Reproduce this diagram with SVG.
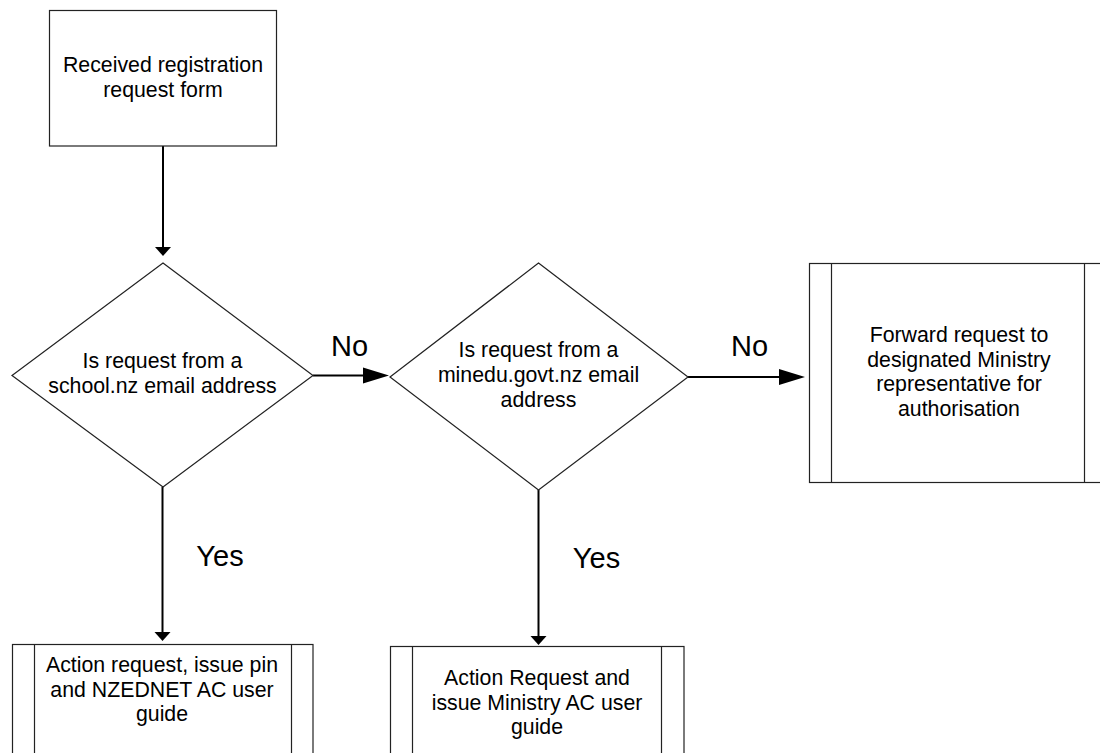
<svg xmlns="http://www.w3.org/2000/svg" width="1100" height="753" viewBox="0 0 1100 753">
  <style>
    .shape { fill: #ffffff; stroke: #222222; stroke-width: 1.2; }
    .div { fill: none; stroke: #222222; stroke-width: 1.2; }
    .conn { fill: none; stroke: #000000; stroke-width: 2; }
    .txt { font-family: "Liberation Sans", Arial, sans-serif; font-size: 21.3px; fill: #000000; text-anchor: middle; }
    .lbl { font-family: "Liberation Sans", Arial, sans-serif; font-size: 29px; fill: #000000; text-anchor: middle; }
  </style>
  <defs>
    <marker id="arrV" markerUnits="userSpaceOnUse" markerWidth="10" markerHeight="18" refX="0" refY="8" orient="auto" overflow="visible">
      <path d="M0,0 L9,8 L0,16 Z" fill="#000000"/>
    </marker>
    <marker id="arrH" markerUnits="userSpaceOnUse" markerWidth="27" markerHeight="18" refX="0" refY="8" orient="auto" overflow="visible">
      <path d="M0,0 L26,8 L0,16 Z" fill="#000000"/>
    </marker>
  </defs>
  <rect width="1100" height="753" fill="#ffffff"/>

  <g id="connectors">
    <line class="conn" x1="163" y1="146" x2="163" y2="247" marker-end="url(#arrV)"/>
    <line class="conn" x1="313" y1="375.5" x2="363" y2="375.5" marker-end="url(#arrH)"/>
    <line class="conn" x1="688" y1="377" x2="779" y2="377" marker-end="url(#arrH)"/>
    <line class="conn" x1="162.5" y1="487" x2="162.5" y2="632" marker-end="url(#arrV)"/>
    <line class="conn" x1="538.5" y1="490" x2="538.5" y2="636" marker-end="url(#arrV)"/>
    <text class="lbl" x="349.5" y="356">No</text>
    <text class="lbl" x="749.5" y="356">No</text>
    <text class="lbl" x="220" y="566">Yes</text>
    <text class="lbl" x="596.5" y="568">Yes</text>
  </g>

  <g id="start">
    <rect class="shape" x="49.5" y="10.5" width="227" height="135.5"/>
    <text class="txt" x="163" y="72">Received registration</text>
    <text class="txt" x="163" y="97">request form</text>
  </g>

  <g id="decision1">
    <polygon class="shape" points="163,263 313,375.5 163,487 12,375.5"/>
    <text class="txt" x="162.5" y="368">Is request from a</text>
    <text class="txt" x="162.5" y="393">school.nz email address</text>
  </g>

  <g id="decision2">
    <polygon class="shape" points="538.5,263 688,377 538.5,490 390,377"/>
    <text class="txt" x="538.5" y="357">Is request from a</text>
    <text class="txt" x="538.5" y="382">minedu.govt.nz email</text>
    <text class="txt" x="538.5" y="407">address</text>
  </g>

  <g id="forward">
    <rect class="shape" x="809.5" y="263.5" width="298" height="219"/>
    <line class="div" x1="831.5" y1="263.5" x2="831.5" y2="482.5"/>
    <line class="div" x1="1084.5" y1="263.5" x2="1084.5" y2="482.5"/>
    <text class="txt" x="959" y="342">Forward request to</text>
    <text class="txt" x="959" y="366.5">designated Ministry</text>
    <text class="txt" x="959" y="391">representative for</text>
    <text class="txt" x="959" y="415.5">authorisation</text>
  </g>

  <g id="action-school">
    <rect class="shape" x="12.5" y="644.5" width="300.5" height="130"/>
    <line class="div" x1="34.5" y1="644.5" x2="34.5" y2="760"/>
    <line class="div" x1="291.5" y1="644.5" x2="291.5" y2="760"/>
    <text class="txt" x="162" y="671.5">Action request, issue pin</text>
    <text class="txt" x="162" y="696.5">and NZEDNET AC user</text>
    <text class="txt" x="162" y="720.5">guide</text>
  </g>

  <g id="action-ministry">
    <rect class="shape" x="390.5" y="646.5" width="293.5" height="130"/>
    <line class="div" x1="412.5" y1="646.5" x2="412.5" y2="760"/>
    <line class="div" x1="661.5" y1="646.5" x2="661.5" y2="760"/>
    <text class="txt" x="537" y="685">Action Request and</text>
    <text class="txt" x="537" y="710">issue Ministry AC user</text>
    <text class="txt" x="537" y="733.5">guide</text>
  </g>
</svg>
